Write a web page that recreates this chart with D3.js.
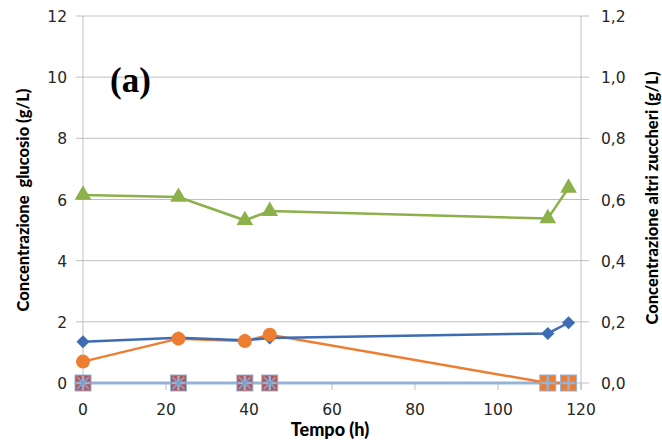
<!DOCTYPE html>
<html>
<head>
<meta charset="utf-8">
<script src="https://cdn.jsdelivr.net/npm/d3@7"></script>
<style>
  body { margin:0; background:#fff; }
  svg text { font-family: "DejaVu Sans", sans-serif; }
  svg text.title { font-family: Lato, "Open Sans", sans-serif; font-weight: 900; }
</style>
</head>
<body>
<svg id="chart" width="662" height="446"></svg>
<script>
// DATA
var times = [0, 23, 39, 45, 112, 117];
var blueDiamonds = [1.35, 1.48, 1.4, 1.47, 1.62, 1.97];
var orangeCircles = [0.7, 1.45, 1.37, 1.58, 0, 0];
var greenTriangles = [6.15, 6.08, 5.32, 5.62, 5.38, 6.38];
var redSquares = [0, 0, 0, 0];          // first four times
var orangeSquares = [0, 0];             // last two times
var lightBlueLine = [0, 0, 0, 0, 0, 0];
var leftTicks = [0, 2, 4, 6, 8, 10, 12];
var rightTicks = [0, 0.2, 0.4, 0.6, 0.8, 1.0, 1.2];
var xTicks = [0, 20, 40, 60, 80, 100, 120];

var margin = { top:16, bottom:63, left:83, right:81 };
var W = 662, H = 446;
var width = W - margin.left - margin.right;
var height = H - margin.top - margin.bottom;

var svg = d3.select('#chart');
var g = svg.append('g').attr('transform', 'translate(' + margin.left + ',' + margin.top + ')');

var x = d3.scaleLinear().domain([0, 120]).range([0, width]);
var yL = d3.scaleLinear().domain([0, 12]).range([height, 0]);
var yR = d3.scaleLinear().domain([0, 1.2]).range([height, 0]);

var grey = '#bfbfbf';

// gridlines (with small outside ticks on both sides)
g.selectAll('.grid').data(leftTicks).enter().append('line')
	.attr('x1', -7).attr('x2', width + 8)
	.attr('y1', function(d) { return yL(d); })
	.attr('y2', function(d) { return yL(d); })
	.attr('stroke', grey).attr('stroke-width', 1);

// vertical axis lines
g.append('line').attr('x1', 0).attr('x2', 0).attr('y1', 0).attr('y2', height + 7)
	.attr('stroke', grey);
g.append('line').attr('x1', width).attr('x2', width).attr('y1', 0).attr('y2', height + 7)
	.attr('stroke', grey);

// x ticks
g.selectAll('.xtick').data(xTicks).enter().append('line')
	.attr('x1', function(d) { return x(d); }).attr('x2', function(d) { return x(d); })
	.attr('y1', height).attr('y2', height + 7)
	.attr('stroke', grey);

// tick labels
var tickSize = 15.5, tickColor = '#262626';
g.selectAll('.xl').data(xTicks).enter().append('text')
	.attr('x', function(d) { return x(d); }).attr('y', height + 32)
	.attr('text-anchor', 'middle').attr('font-size', tickSize).attr('fill', tickColor)
	.text(function(d) { return d; });

g.selectAll('.yl').data(leftTicks).enter().append('text')
	.attr('x', -16).attr('y', function(d) { return yL(d) + 6; })
	.attr('text-anchor', 'end').attr('font-size', tickSize).attr('fill', tickColor)
	.text(function(d) { return d; });

var fmtR = function(d) { return d3.format('.1f')(d).replace('.', ','); };
g.selectAll('.yr').data(rightTicks).enter().append('text')
	.attr('x', width + 20).attr('y', function(d) { return yR(d) + 6; })
	.attr('text-anchor', 'start').attr('font-size', tickSize).attr('fill', tickColor)
	.text(fmtR);

// axis titles
svg.append('text').attr('class', 'title')
	.attr('x', 330).attr('y', 436)
	.attr('text-anchor', 'middle').attr('font-size', 18)
	.text('Tempo (h)');

svg.append('text').attr('class', 'title')
	.attr('transform', 'translate(29,200)rotate(-90)')
	.attr('text-anchor', 'middle').attr('font-size', 16.5)
	.attr('xml:space', 'preserve')
	.text('Concentrazione  glucosio (g/L)');

svg.append('text').attr('class', 'title')
	.attr('transform', 'translate(658,198)rotate(-90)')
	.attr('text-anchor', 'middle').attr('font-size', 16.5)
	.text('Concentrazione altri zuccheri (g/L)');

svg.append('text')
	.attr('x', 110).attr('y', 92)
	.attr('font-size', 35).attr('font-weight', 'bold')
	.style('font-family', '"Liberation Serif", "DejaVu Serif", serif')
	.text('(a)');

// SERIES
function pts(vals, tt) {
	return vals.map(function(v, i) { return { t: tt[i], v: v }; });
}
var line = d3.line().x(function(d) { return x(d.t); }).y(function(d) { return yL(d.v); });

// light blue baseline
g.append('path').datum(pts(lightBlueLine, times))
	.attr('d', line).attr('fill', 'none').attr('stroke', '#95b3d7').attr('stroke-width', 3);

// squares
var sq = 16;
g.selectAll('.rsq').data(pts(redSquares, times.slice(0, 4))).enter().append('rect')
	.attr('x', function(d) { return x(d.t) - sq / 2; })
	.attr('y', function(d) { return yL(d.v) - sq / 2; })
	.attr('width', sq).attr('height', sq)
	.attr('fill', '#c0504d').attr('stroke', '#95b3d7').attr('stroke-width', 1);

// orange circles line
g.append('path').datum(pts(orangeCircles, times))
	.attr('d', line).attr('fill', 'none').attr('stroke', '#ed7d31').attr('stroke-width', 2.5);

g.selectAll('.osq').data(pts(orangeSquares, times.slice(4))).enter().append('rect')
	.attr('x', function(d) { return x(d.t) - sq / 2; })
	.attr('y', function(d) { return yL(d.v) - sq / 2; })
	.attr('width', sq).attr('height', sq)
	.attr('fill', '#ed7d31').attr('stroke', '#95b3d7').attr('stroke-width', 1);

// cross markers on baseline
var crossPts = pts(lightBlueLine, times);
g.selectAll('.plus').data(crossPts).enter().append('path')
	.attr('transform', function(d) { return 'translate(' + x(d.t) + ',' + yL(d.v) + ')'; })
	.attr('d', 'M-7,0L7,0M0,-7L0,7')
	.attr('stroke', '#95b3d7').attr('stroke-width', 2.5);
g.selectAll('.xmark').data(crossPts.slice(0, 4)).enter().append('path')
	.attr('transform', function(d) { return 'translate(' + x(d.t) + ',' + yL(d.v) + ')'; })
	.attr('d', 'M-6,-6L6,6M-6,6L6,-6')
	.attr('stroke', '#7f9fc8').attr('stroke-width', 2);

// blue diamonds
g.append('path').datum(pts(blueDiamonds, times))
	.attr('d', line).attr('fill', 'none').attr('stroke', '#3e6cb2').attr('stroke-width', 2.5);
g.selectAll('.dia').data(pts(blueDiamonds, times)).enter().append('path')
	.attr('transform', function(d) { return 'translate(' + x(d.t) + ',' + yL(d.v) + ')'; })
	.attr('d', d3.symbol().type(d3.symbolDiamond2).size(110))
	.attr('fill', '#3e6cb2');

// orange circles markers
g.selectAll('.circ').data(pts(orangeCircles, times).slice(0, 4)).enter().append('circle')
	.attr('cx', function(d) { return x(d.t); })
	.attr('cy', function(d) { return yL(d.v); })
	.attr('r', 7).attr('fill', '#ed7d31');

// green triangles
g.append('path').datum(pts(greenTriangles, times))
	.attr('d', line).attr('fill', 'none').attr('stroke', '#8cb04a').attr('stroke-width', 2.5);
g.selectAll('.tri').data(pts(greenTriangles, times)).enter().append('path')
	.attr('transform', function(d) { return 'translate(' + x(d.t) + ',' + yL(d.v) + ')'; })
	.attr('d', d3.symbol().type(d3.symbolTriangle).size(120))
	.attr('fill', '#8cb04a');
</script>
</body>
</html>
